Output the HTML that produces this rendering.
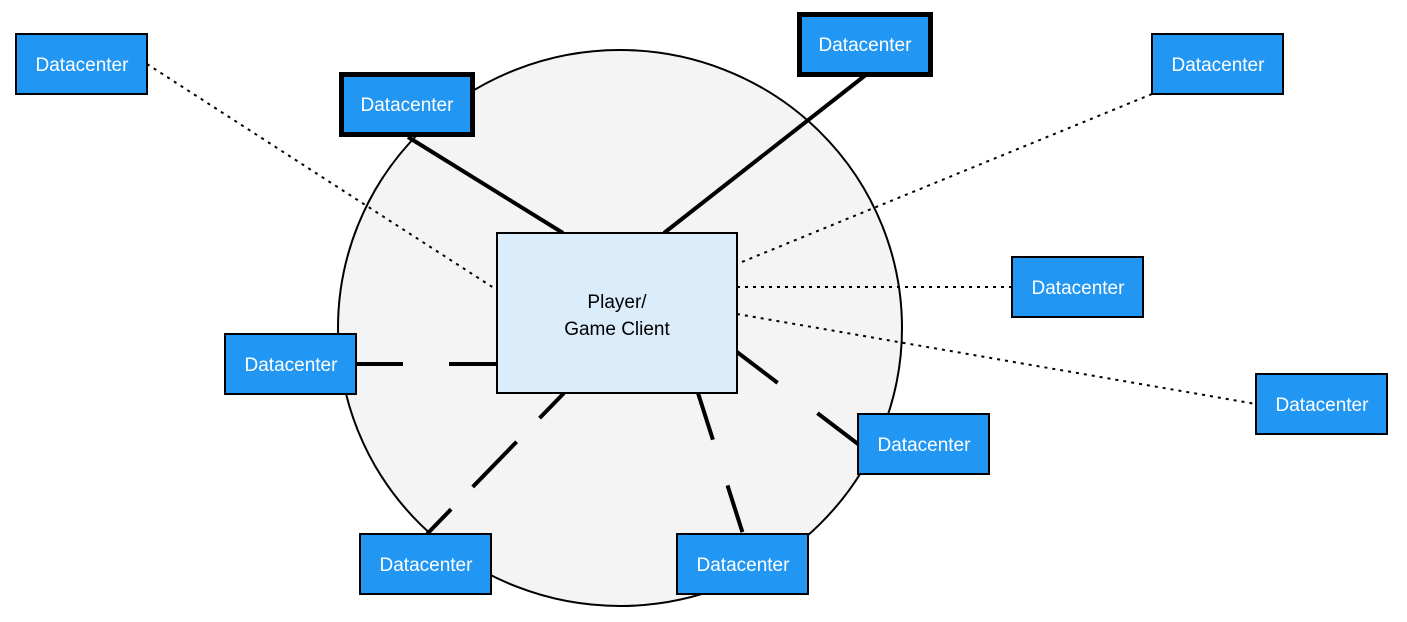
<!DOCTYPE html>
<html><head><meta charset="utf-8"><style>
body{margin:0;background:#fff;}
svg{display:block;}
text{font-family:"Liberation Sans",sans-serif;}
</style></head><body>
<svg width="1407" height="622" viewBox="0 0 1407 622" xmlns="http://www.w3.org/2000/svg">
<ellipse cx="620" cy="328" rx="282" ry="278" fill="#f4f4f4" stroke="#000" stroke-width="2"/>
<g stroke="#000" stroke-width="4" fill="none">
<line x1="408" y1="137" x2="563" y2="233"/>
<line x1="867" y1="74" x2="664" y2="233"/>
</g>
<g stroke="#000" stroke-width="2" stroke-dasharray="3 5" fill="none">
<line x1="147" y1="64" x2="497" y2="290"/>
<line x1="1152" y1="94" x2="737" y2="264"/>
<line x1="737" y1="287" x2="1012" y2="287"/>
<line x1="737" y1="314" x2="1256" y2="404"/>
</g>
<g stroke="#000" stroke-width="4" fill="none">
<line x1="356" y1="364" x2="497" y2="364" stroke-dasharray="47 46"/>
<line x1="564" y1="393" x2="427" y2="534" stroke-dasharray="35 33 63 31 40"/>
<line x1="698" y1="393" x2="743" y2="534" stroke-dasharray="49 48"/>
<line x1="737" y1="352" x2="858" y2="444" stroke-dasharray="51 50"/>
</g>
<rect x="497" y="233" width="240" height="160" fill="#dbecfa" stroke="#000" stroke-width="2"/>
<text x="617" y="308" font-size="19" text-anchor="middle">Player/</text>
<text x="617" y="335" font-size="19" text-anchor="middle">Game Client</text>
<g fill="#2196f3" stroke="#000" stroke-width="2">
<rect x="16" y="34" width="131" height="60"/>
<rect x="1152" y="34" width="131" height="60"/>
<rect x="1012" y="257" width="131" height="60"/>
<rect x="1256" y="374" width="131" height="60"/>
<rect x="858" y="414" width="131" height="60"/>
<rect x="677" y="534" width="131" height="60"/>
<rect x="360" y="534" width="131" height="60"/>
<rect x="225" y="334" width="131" height="60"/>
</g>
<g fill="#2196f3" stroke="#000" stroke-width="5">
<rect x="341.5" y="74.5" width="131" height="60"/>
<rect x="799.5" y="14.5" width="131" height="60"/>
</g>
<g fill="#fff" font-size="19" text-anchor="middle">
<text x="82" y="71">Datacenter</text>
<text x="1218" y="71">Datacenter</text>
<text x="1078" y="294">Datacenter</text>
<text x="1322" y="411">Datacenter</text>
<text x="924" y="451">Datacenter</text>
<text x="743" y="571">Datacenter</text>
<text x="426" y="571">Datacenter</text>
<text x="291" y="371">Datacenter</text>
<text x="407" y="111">Datacenter</text>
<text x="865" y="51">Datacenter</text>
</g>
</svg>
</body></html>
